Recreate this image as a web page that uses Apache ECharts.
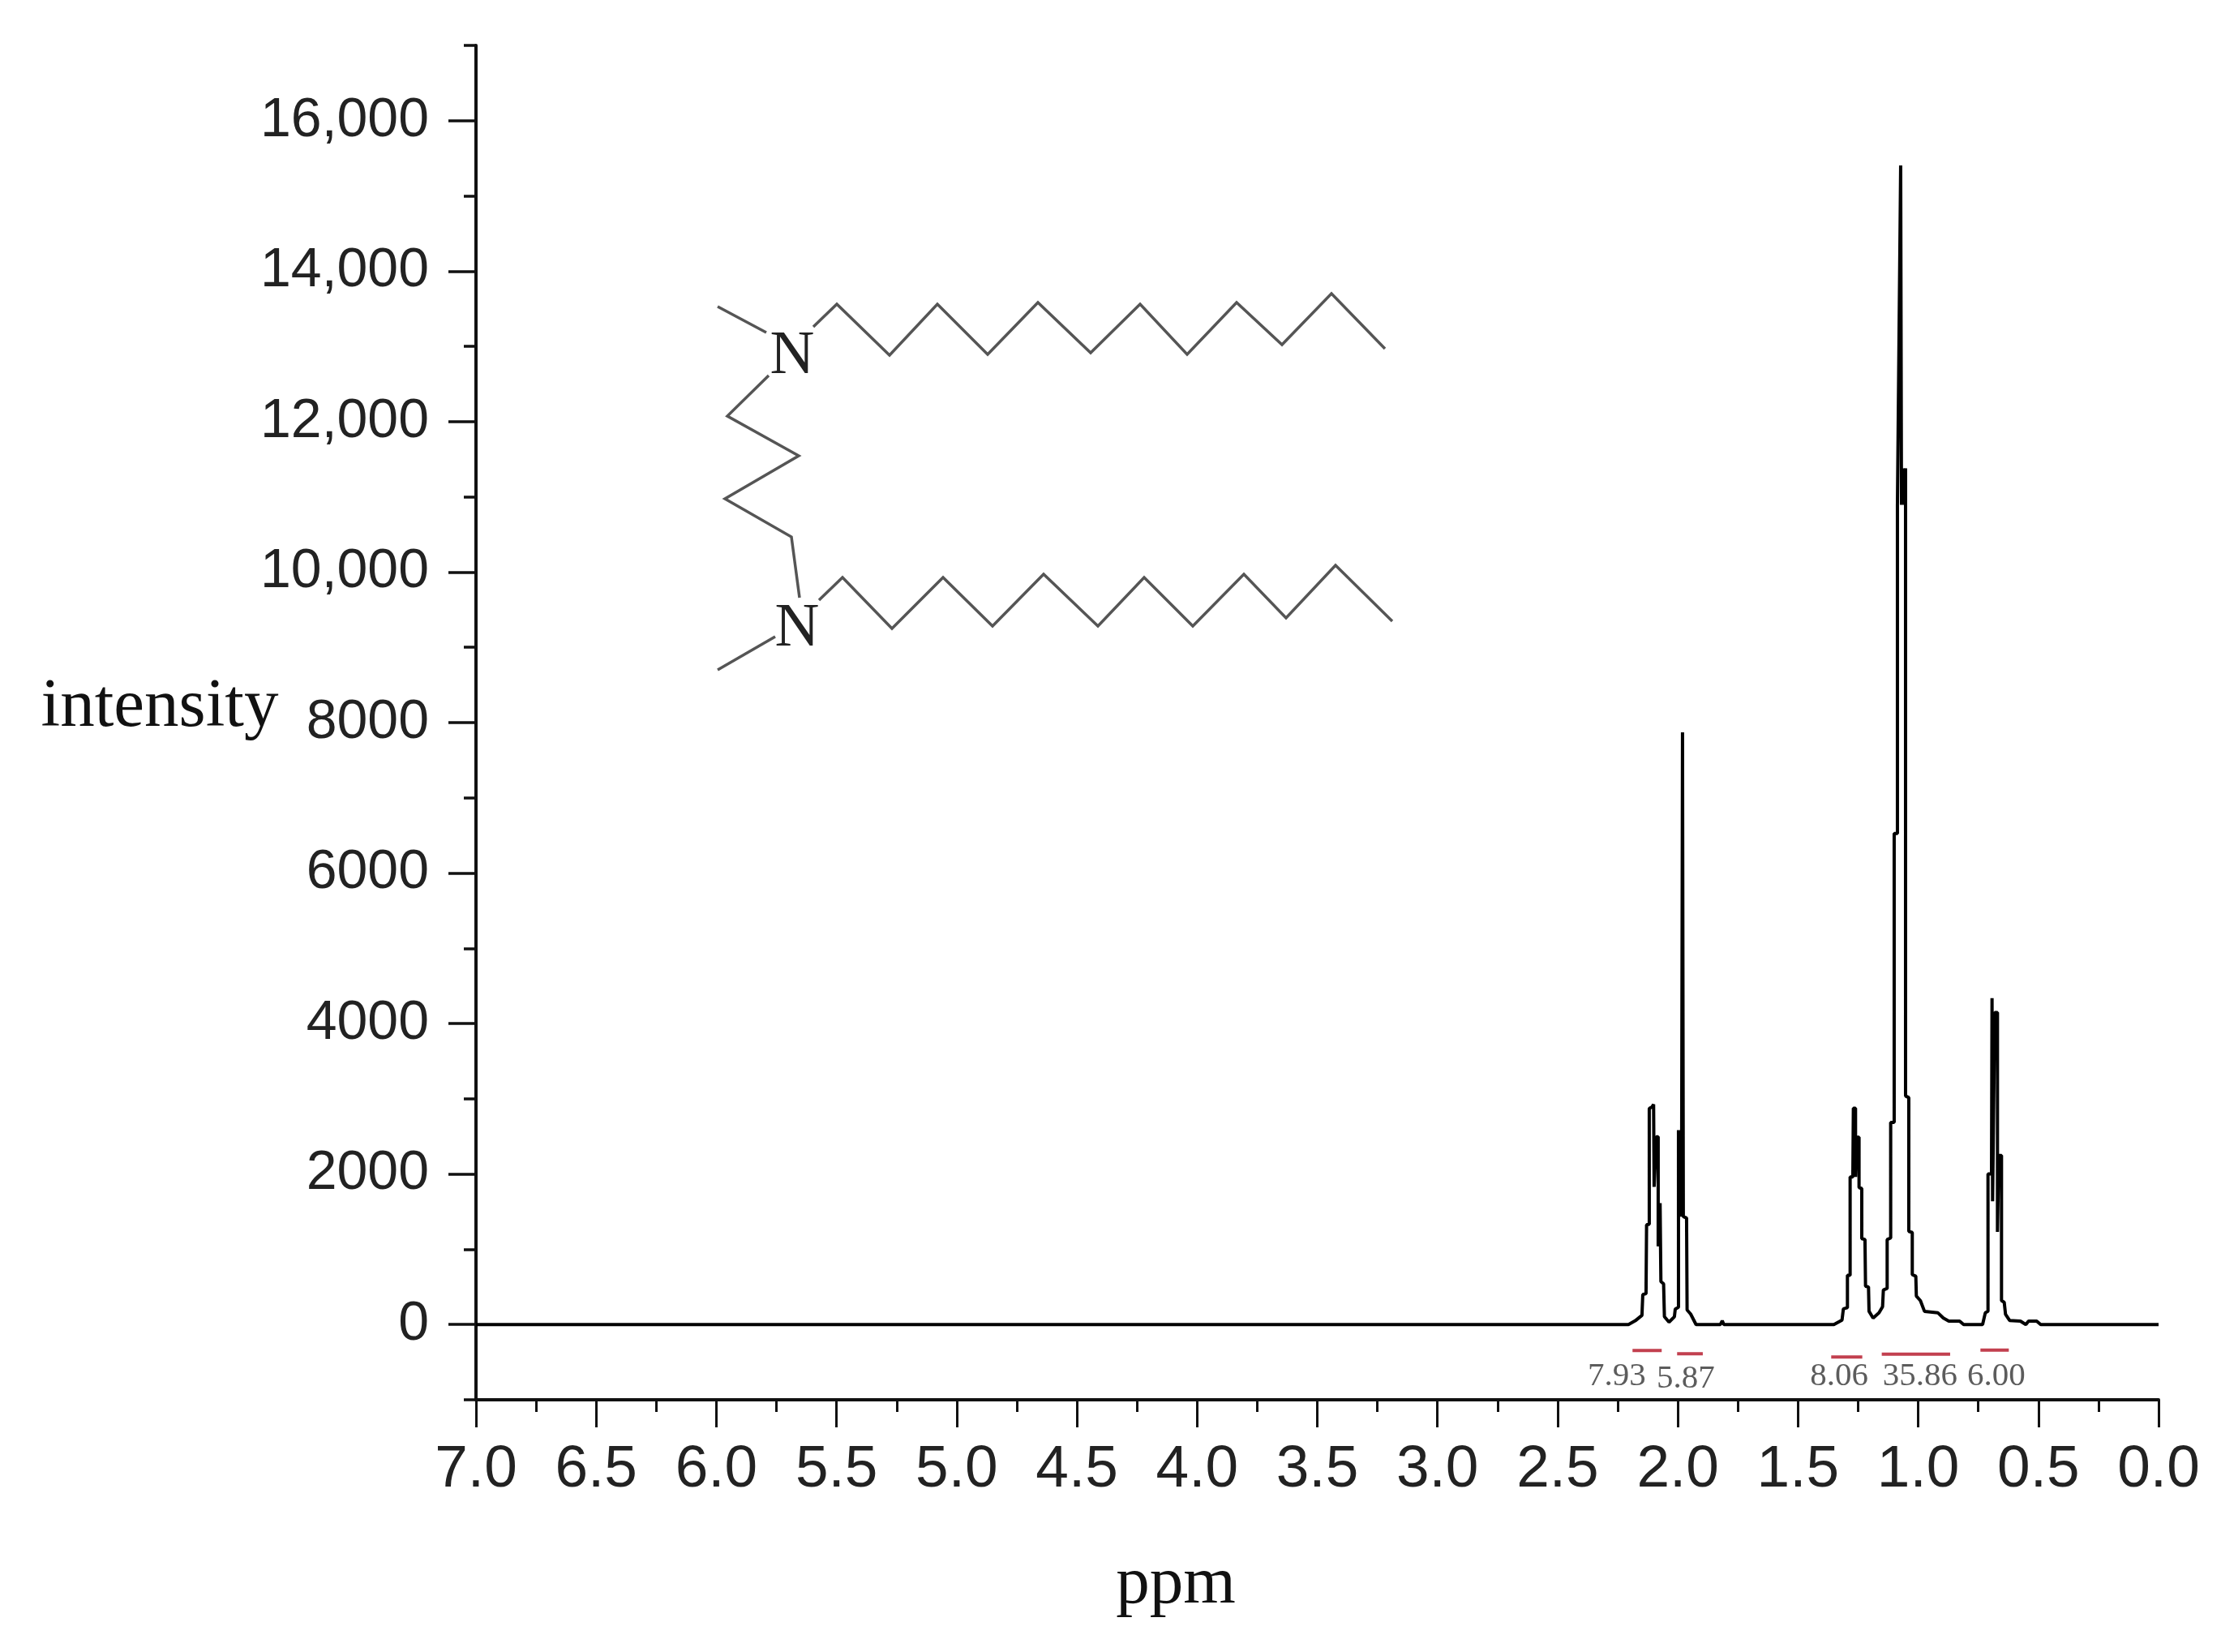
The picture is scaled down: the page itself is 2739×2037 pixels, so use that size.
<!DOCTYPE html>
<html>
<head>
<meta charset="utf-8">
<style>html,body{margin:0;padding:0;background:#fff}#c{width:2739px;height:2037px}</style>
<script src="https://cdn.jsdelivr.net/npm/echarts@6/dist/echarts.min.js"></script>
</head>
<body>
<div id="c"></div>
<script>
const ppm = [7.0,2.2054,2.1773,2.1492,2.1458,2.1323,2.13,2.1188,2.1188,2.1076,2.1008,2.0986,2.0896,2.0817,2.0817,2.0738,2.0682,2.0704,2.0592,2.0558,2.0367,2.0142,2.0108,1.9973,1.9973,1.9883,1.9839,1.9805,1.9771,1.9636,1.9614,1.9467,1.9242,1.823,1.8152,1.8084,1.3507,1.3169,1.3113,1.2944,1.2944,1.2832,1.2832,1.2719,1.2697,1.2607,1.2607,1.2551,1.2461,1.2461,1.2348,1.2348,1.2214,1.2191,1.2067,1.2045,1.1876,1.1631,1.1482,1.1449,1.1291,1.1291,1.1145,1.1145,1.0999,1.0999,1.0864,1.0864,1.0729,1.0695,1.0611,1.0611,1.0526,1.0526,1.0391,1.0391,1.0246,1.0246,1.0099,1.0077,0.9908,0.9739,0.9177,0.8952,0.8727,0.8277,0.8108,0.7321,0.7209,0.7096,0.7096,0.695,0.6928,0.6905,0.6815,0.6702,0.6702,0.6647,0.6534,0.6534,0.6421,0.6366,0.6197,0.5747,0.5522,0.5409,0.5071,0.4903,0.0];
const intensity = [0,0,50,122,399,410,1326,1334,2873,2891,2927,1830,2495,2495,1039,1614,1614,571,542,104,32,104,204,230,2585,1434,2585,7870,1434,1416,194,140,0,0,50,0,0,60,208,224,655,655,1962,1962,2875,2875,1962,2490,2490,1820,1808,1142,1130,509,500,176,86,155,237,460,480,1130,1150,2685,2685,6526,6526,10895,15404,10895,11380,10895,11380,3038,3016,1239,1223,663,642,379,318,176,155,86,46,46,0,0,155,176,2003,2003,4337,1637,4146,4146,1231,2246,2246,318,297,135,54,46,0,46,46,0,0];
const yTickValues = [0,2000,4000,6000,8000,10000,12000,14000,16000];
const integralLabels = ['7.93','5.87','8.06','35.86','6.00'];
const integralLabelPpm = [2.2537,1.967,1.329,0.992,0.675];
const integralLabelY = [-690,-723,-685,-685,-685];
const integralFrom = [2.1885,2.003,1.3619,1.1516,0.7411];
const integralTo = [2.0671,1.8961,1.2326,0.8671,0.623];
const integralLevel = [-345,-388,-431,-393,-340];

const spectrum = ppm.map((p,i)=>[p,intensity[i]]);
const integralData = [];
integralFrom.forEach((f,i)=>{integralData.push([f,integralLevel[i]],[integralTo[i],integralLevel[i]],[null,null]);});
const sans = '"Liberation Sans"', serif = '"Liberation Serif"';
const bond = {stroke:'#555',lineWidth:3.5,fill:'none'};
function mol(points){return {type:'polyline',shape:{points},style:bond,silent:true};}
function atom(x,y){return {type:'text',x,y,silent:true,style:{text:'N',font:'76px '+serif,fill:'#222',align:'center',verticalAlign:'middle'}};}

const chart = echarts.init(document.getElementById('c'),null,{renderer:'canvas'});
chart.setOption({
  animation:false,
  backgroundColor:'#fff',
  grid:{left:587,right:77,top:56,bottom:311,containLabel:false},
  xAxis:{type:'value',inverse:true,min:0,max:7,interval:0.5,position:'bottom',
    axisLine:{onZero:false,lineStyle:{color:'#111',width:4}},
    axisTick:{length:34,inside:false,lineStyle:{color:'#111',width:3}},
    minorTick:{show:true,splitNumber:2,length:15,lineStyle:{color:'#111',width:3}},
    splitLine:{show:false},minorSplitLine:{show:false},
    axisLabel:{fontFamily:sans,fontSize:73,color:'#222',margin:50,showMinLabel:true,showMaxLabel:true,hideOverlap:false,formatter:v=>v.toFixed(1)}},
  yAxis:[
    {type:'value',min:-1000,max:17000,interval:1000,position:'left',
     axisLine:{onZero:false,lineStyle:{color:'#111',width:4}},
     axisTick:{length:34,customValues:yTickValues,lineStyle:{color:'#111',width:3.5}},
     splitLine:{show:false},
     axisLabel:{fontFamily:sans,fontSize:68,color:'#222',margin:58,customValues:yTickValues,
       formatter:v=>v>=10000?(v/1000)+',000':String(v)}},
    {type:'value',min:-1000,max:17000,interval:1000,position:'left',
     axisLine:{show:false,onZero:false},
     axisTick:{length:15,lineStyle:{color:'#111',width:3.5}},
     splitLine:{show:false},axisLabel:{show:false}}
  ],
  series:[
    {type:'line',name:'spectrum',data:spectrum,showSymbol:false,smooth:false,sampling:false,
     lineStyle:{color:'#000',width:4},yAxisIndex:0,silent:true,connectNulls:false},
    {type:'line',name:'integrals',data:integralData,showSymbol:false,connectNulls:false,
     lineStyle:{color:'#c2404f',width:4},yAxisIndex:0,silent:true},
    {type:'scatter',name:'integral labels',symbolSize:0,yAxisIndex:0,silent:true,
     data:integralLabels.map((t,i)=>({value:[integralLabelPpm[i],integralLabelY[i]],name:t})),
     label:{show:true,position:'inside',formatter:p=>p.name,fontFamily:serif,fontSize:41,color:'#333'}}
  ],
  graphic:[
    {type:'text',x:197,y:873,silent:true,style:{text:'intensity',font:'85px '+serif,fill:'#111',align:'center',verticalAlign:'middle'}},
    {type:'text',x:1450,y:1954,silent:true,style:{text:'ppm',font:'83px '+serif,fill:'#111',align:'center',verticalAlign:'middle'}},
    mol([[1003,403],[1032,375],[1097,438],[1156,375],[1218,437],[1280,373],[1345,435],[1406,375],[1464,437],[1525,373],[1581,425],[1642,362],[1708,430]]),
    mol([[885,378],[945,410]]),
    mol([[948,463],[897,513],[985,562],[894,615],[976,662],[986,737]]),
    mol([[956,785],[885,826]]),
    mol([[1010,740],[1039,712],[1100,775],[1163,712],[1224,772],[1287,708],[1354,772],[1411,712],[1471,772],[1534,708],[1586,762],[1647,697],[1717,766]]),
    atom(977,440),atom(983,776)
  ]
});
</script>
</body>
</html>
